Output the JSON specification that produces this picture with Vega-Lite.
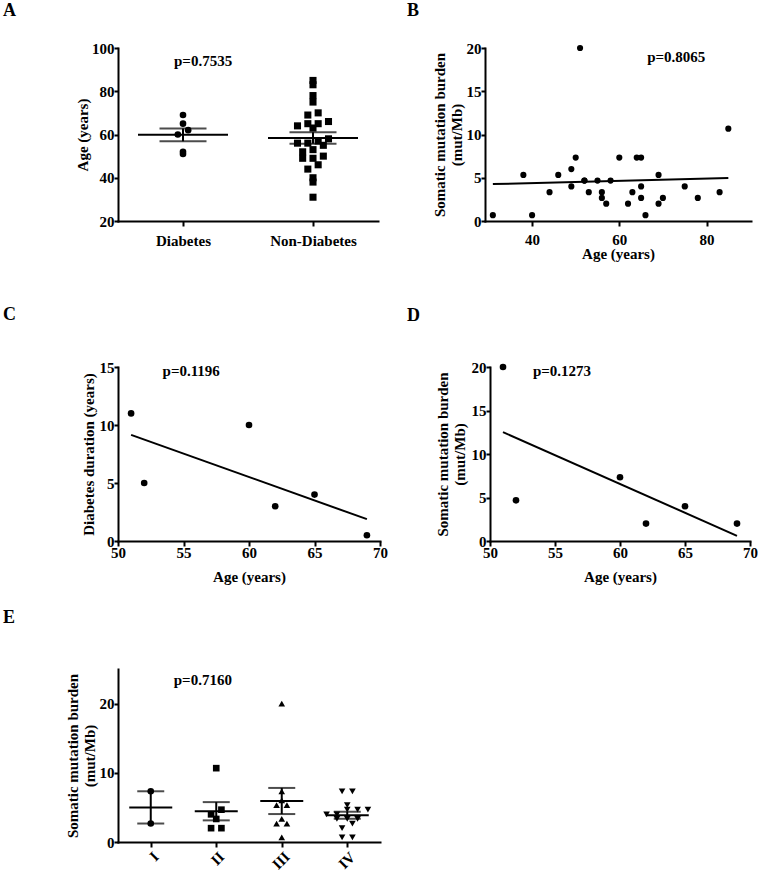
{
  "$schema": "https://vega.github.io/schema/vega-lite/v6.json",
  "padding": {"left": 3, "top": 2, "right": 0, "bottom": 0},
  "background": "white",
  "datasets": {
    "patients": [
      {"age": 31, "tmb": 0.67, "group": "Non-Diabetes", "stage": "III"},
      {"age": 38, "tmb": 5.33, "group": "Non-Diabetes", "stage": "III"},
      {"age": 40, "tmb": 0.67, "group": "Non-Diabetes", "stage": "IV"},
      {"age": 44, "tmb": 3.33, "group": "Non-Diabetes", "stage": "II"},
      {"age": 46, "tmb": 5.33, "group": "Non-Diabetes", "stage": "III"},
      {"age": 49, "tmb": 6.0, "group": "Non-Diabetes", "stage": "III"},
      {"age": 49, "tmb": 4.0, "group": "Non-Diabetes", "stage": "II"},
      {"age": 50, "tmb": 7.33, "group": "Non-Diabetes", "stage": "I"},
      {"age": 51, "tmb": 20, "group": "Diabetes", "duration": 11, "stage": "III"},
      {"age": 52, "tmb": 4.67, "group": "Diabetes", "duration": 5, "stage": "IV"},
      {"age": 52, "tmb": 4.67, "group": "Non-Diabetes", "stage": "II"},
      {"age": 53, "tmb": 3.33, "group": "Non-Diabetes", "stage": "III"},
      {"age": 55, "tmb": 4.67, "group": "Non-Diabetes", "stage": "IV"},
      {"age": 56, "tmb": 3.33, "group": "Non-Diabetes", "stage": "IV"},
      {"age": 56, "tmb": 2.67, "group": "Non-Diabetes", "stage": "I"},
      {"age": 57, "tmb": 2.0, "group": "Non-Diabetes", "stage": "II"},
      {"age": 58, "tmb": 4.67, "group": "Non-Diabetes", "stage": "IV"},
      {"age": 60, "tmb": 7.33, "group": "Diabetes", "duration": 10, "stage": "III"},
      {"age": 62, "tmb": 2.0, "group": "Diabetes", "duration": 3, "stage": "II"},
      {"age": 63, "tmb": 3.33, "group": "Non-Diabetes", "stage": "IV"},
      {"age": 64, "tmb": 7.33, "group": "Non-Diabetes", "stage": "IV"},
      {"age": 65, "tmb": 7.33, "group": "Non-Diabetes", "stage": "IV"},
      {"age": 65, "tmb": 4.0, "group": "Diabetes", "duration": 4, "stage": "IV"},
      {"age": 65, "tmb": 2.67, "group": "Non-Diabetes", "stage": "III"},
      {"age": 66, "tmb": 0.67, "group": "Non-Diabetes", "stage": "IV"},
      {"age": 69, "tmb": 2.0, "group": "Diabetes", "duration": 0.5, "stage": "IV"},
      {"age": 69, "tmb": 5.33, "group": "Non-Diabetes", "stage": "IV"},
      {"age": 70, "tmb": 2.67, "group": "Non-Diabetes", "stage": "III"},
      {"age": 75, "tmb": 4.0, "group": "Non-Diabetes", "stage": "IV"},
      {"age": 78, "tmb": 2.67, "group": "Non-Diabetes", "stage": "IV"},
      {"age": 83, "tmb": 3.33, "group": "Non-Diabetes", "stage": "IV"},
      {"age": 85, "tmb": 10.67, "group": "Non-Diabetes", "stage": "II"}
    ]
  },
  "columns": 1,
  "align": "none",
  "spacing": 25,
  "resolve": {"scale": {"shape": "independent", "size": "independent", "xOffset": "independent"}},
  "concat": [
    {
      "hconcat": [
        {
          "width": 260,
          "height": 173,
          "title": {"text": "A", "dx": -115, "offset": 21},
          "data": {"name": "patients"},
          "layer": [
            {
              "transform": [
                {"bin": {"step": 4}, "field": "age", "as": "abin"},
                {"window": [{"op": "row_number", "as": "r"}, {"op": "count", "as": "n"}], "groupby": ["group", "abin"], "sort": [{"field": "age"}], "frame": [null, null]},
                {"calculate": "datum.r - (datum.n + 1) / 2", "as": "off"}
              ],
              "mark": {"type": "point", "filled": true, "color": "black", "opacity": 1},
              "encoding": {
                "x": {"field": "group", "type": "nominal", "title": null, "scale": {"type": "point", "padding": 0.5, "domain": ["Diabetes", "Non-Diabetes"]}, "axis": {"labelPadding": 7}},
                "xOffset": {"field": "off", "type": "quantitative", "scale": {"domain": [-6, 6], "range": [-62, 62]}},
                "y": {"field": "age", "type": "quantitative", "title": "Age (years)", "scale": {"domain": [20, 100], "nice": false, "zero": false}, "axis": {"values": [20, 40, 60, 80, 100], "titlePadding": 1}},
                "shape": {"field": "group", "type": "nominal", "scale": {"domain": ["Diabetes", "Non-Diabetes"], "range": ["circle", "square"]}, "legend": null},
                "size": {"field": "group", "type": "nominal", "scale": {"domain": ["Diabetes", "Non-Diabetes"], "range": [44, 50]}, "legend": null}
              }
            },
            {
              "mark": {"type": "tick", "size": 90, "thickness": 2, "color": "black"},
              "encoding": {
                "x": {"field": "group", "type": "nominal", "title": null},
                "y": {"aggregate": "mean", "field": "age", "type": "quantitative", "title": "Age (years)"}
              }
            },
            {
              "mark": {"type": "errorbar", "extent": "stderr", "thickness": 2, "color": "black", "ticks": {"size": 47, "thickness": 2, "color": "black"}},
              "encoding": {
                "x": {"field": "group", "type": "nominal", "title": null},
                "y": {"field": "age", "type": "quantitative", "title": "Age (years)"}
              }
            },
            {
              "data": {"values": [{}]},
              "mark": {"type": "text", "align": "left", "baseline": "alphabetic", "dx": -9},
              "encoding": {
                "x": {"datum": "Diabetes", "type": "nominal", "title": null},
                "y": {"datum": 91.8, "type": "quantitative", "title": "Age (years)"},
                "text": {"value": "p=0.7535"}
              }
            }
          ]
        },
        {
          "width": 266,
          "height": 173,
          "title": {"text": "B", "dx": -78, "offset": 21},
          "data": {"name": "patients"},
          "layer": [
            {
              "mark": {"type": "point", "filled": true, "size": 38, "color": "black", "opacity": 1, "shape": "circle"},
              "encoding": {
                "x": {"field": "age", "type": "quantitative", "title": ["Age (years)", ""], "scale": {"domain": [29.2, 90.2], "nice": false, "zero": false}, "axis": {"values": [40, 60, 80], "titleLineHeight": 20, "titlePadding": -1}},
                "y": {"field": "tmb", "type": "quantitative", "title": ["Somatic mutation burden", "(mut/Mb)"], "scale": {"domain": [0, 20], "nice": false}, "axis": {"values": [0, 5, 10, 15, 20], "titlePadding": 2}}
              }
            },
            {
              "transform": [{"regression": "tmb", "on": "age"}],
              "mark": {"type": "line", "color": "black", "strokeWidth": 2},
              "encoding": {
                "x": {"field": "age", "type": "quantitative", "title": ["Age (years)", ""]},
                "y": {"field": "tmb", "type": "quantitative", "title": ["Somatic mutation burden", "(mut/Mb)"]}
              }
            },
            {
              "data": {"values": [{}]},
              "mark": {"type": "text", "align": "left", "baseline": "alphabetic"},
              "encoding": {
                "x": {"datum": 66.4, "type": "quantitative", "title": ["Age (years)", ""]},
                "y": {"datum": 18.4, "type": "quantitative", "title": ["Somatic mutation burden", "(mut/Mb)"]},
                "text": {"value": "p=0.8065"}
              }
            }
          ]
        }
      ],
      "spacing": 107,
      "bounds": "flush"
    },
    {
      "hconcat": [
        {
          "width": 262,
          "height": 174,
          "title": {"text": "C", "dx": -115, "offset": 36},
          "data": {"name": "patients"},
          "transform": [{"filter": "datum.group === 'Diabetes'"}],
          "layer": [
            {
              "mark": {"type": "point", "filled": true, "size": 44, "color": "black", "opacity": 1, "shape": "circle"},
              "encoding": {
                "x": {"field": "age", "type": "quantitative", "title": "Age (years)", "scale": {"domain": [50, 70], "nice": false, "zero": false}, "axis": {"values": [50, 55, 60, 65, 70], "labelPadding": -1, "titlePadding": 9}},
                "y": {"field": "duration", "type": "quantitative", "title": "Diabetes duration (years)", "scale": {"domain": [0, 15], "nice": false}, "axis": {"values": [0, 5, 10, 15], "titlePadding": 3}}
              }
            },
            {
              "transform": [{"regression": "duration", "on": "age"}],
              "mark": {"type": "line", "color": "black", "strokeWidth": 2},
              "encoding": {
                "x": {"field": "age", "type": "quantitative", "title": "Age (years)"},
                "y": {"field": "duration", "type": "quantitative", "title": "Diabetes duration (years)"}
              }
            },
            {
              "data": {"values": [{}]},
              "mark": {"type": "text", "align": "left", "baseline": "alphabetic"},
              "encoding": {
                "x": {"datum": 53.4, "type": "quantitative", "title": "Age (years)"},
                "y": {"datum": 14.2, "type": "quantitative", "title": "Diabetes duration (years)"},
                "text": {"value": "p=0.1196"}
              }
            }
          ]
        },
        {
          "width": 260,
          "height": 174,
          "title": {"text": "D", "dx": -83, "offset": 35},
          "data": {"name": "patients"},
          "transform": [{"filter": "datum.group === 'Diabetes'"}],
          "layer": [
            {
              "mark": {"type": "point", "filled": true, "size": 44, "color": "black", "opacity": 1, "shape": "circle"},
              "encoding": {
                "x": {"field": "age", "type": "quantitative", "title": "Age (years)", "scale": {"domain": [50, 70], "nice": false, "zero": false}, "axis": {"values": [50, 55, 60, 65, 70], "labelPadding": -1, "titlePadding": 9}},
                "y": {"field": "tmb", "type": "quantitative", "title": ["Somatic mutation burden", "(mut/Mb)"], "scale": {"domain": [0, 20], "nice": false}, "axis": {"values": [0, 5, 10, 15, 20], "titlePadding": 4}}
              }
            },
            {
              "transform": [{"regression": "tmb", "on": "age"}],
              "mark": {"type": "line", "color": "black", "strokeWidth": 2},
              "encoding": {
                "x": {"field": "age", "type": "quantitative", "title": "Age (years)"},
                "y": {"field": "tmb", "type": "quantitative", "title": ["Somatic mutation burden", "(mut/Mb)"]}
              }
            },
            {
              "data": {"values": [{}]},
              "mark": {"type": "text", "align": "left", "baseline": "alphabetic"},
              "encoding": {
                "x": {"datum": 53.3, "type": "quantitative", "title": "Age (years)"},
                "y": {"datum": 19.0, "type": "quantitative", "title": ["Somatic mutation burden", "(mut/Mb)"]},
                "text": {"value": "p=0.1273"}
              }
            }
          ]
        }
      ],
      "spacing": 110,
      "bounds": "flush"
    },
    {
      "width": 262,
      "height": 173,
      "title": {"text": "E", "dx": -115, "offset": 42},
      "data": {"name": "patients"},
      "layer": [
        {
          "transform": [
            {"bin": {"step": 1}, "field": "tmb", "as": "tbin"},
            {"window": [{"op": "row_number", "as": "r"}, {"op": "count", "as": "n"}], "groupby": ["stage", "tbin"], "sort": [{"field": "tmb"}], "frame": [null, null]},
            {"calculate": "datum.r - (datum.n + 1) / 2", "as": "off"}
          ],
          "mark": {"type": "point", "filled": true, "size": 44, "color": "black", "opacity": 1},
          "encoding": {
            "x": {"field": "stage", "type": "nominal", "title": null, "scale": {"type": "point", "padding": 0.5, "domain": ["I", "II", "III", "IV"]}, "axis": {"labelAngle": -45, "labelPadding": 2}},
            "xOffset": {"field": "off", "type": "quantitative", "scale": {"domain": [-6, 6], "range": [-62, 62]}},
            "y": {"field": "tmb", "type": "quantitative", "title": ["Somatic mutation burden", "(mut/Mb)"], "scale": {"domain": [0, 25], "nice": false}, "axis": {"values": [0, 5, 10, 15, 20, 25], "titlePadding": 2}},
            "shape": {"field": "stage", "type": "nominal", "scale": {"domain": ["I", "II", "III", "IV"], "range": ["circle", "square", "triangle-up", "triangle-down"]}, "legend": null}
          }
        },
        {
          "mark": {"type": "tick", "size": 43, "thickness": 2, "color": "black"},
          "encoding": {
            "x": {"field": "stage", "type": "nominal", "title": null},
            "y": {"aggregate": "mean", "field": "tmb", "type": "quantitative", "title": ["Somatic mutation burden", "(mut/Mb)"]}
          }
        },
        {
          "mark": {"type": "errorbar", "extent": "stderr", "thickness": 2, "color": "black", "ticks": {"size": 27, "thickness": 2, "color": "black"}},
          "encoding": {
            "x": {"field": "stage", "type": "nominal", "title": null},
            "y": {"field": "tmb", "type": "quantitative", "title": ["Somatic mutation burden", "(mut/Mb)"]}
          }
        },
        {
          "data": {"values": [{}]},
          "mark": {"type": "text", "align": "left", "baseline": "alphabetic", "dx": 23},
          "encoding": {
            "x": {"datum": "I", "type": "nominal", "title": null},
            "y": {"datum": 22.7, "type": "quantitative", "title": ["Somatic mutation burden", "(mut/Mb)"]},
            "text": {"value": "p=0.7160"}
          }
        }
      ]
    }
  ],
  "config": {
    "font": "Liberation Serif, Times New Roman, serif",
    "view": {"stroke": null},
    "axis": {
      "grid": false,
      "domainColor": "black",
      "domainWidth": 2,
      "domainCap": "square",
      "tickColor": "black",
      "tickWidth": 2,
      "labelFont": "Liberation Serif, Times New Roman, serif",
      "labelFontWeight": "bold",
      "labelFontSize": 15,
      "labelColor": "black",
      "titleFont": "Liberation Serif, Times New Roman, serif",
      "titleFontWeight": "bold",
      "titleFontSize": 15,
      "titleColor": "black",
      "titleLineHeight": 17,
      "labelFlush": false,
      "labelOverlap": false
    },
    "axisX": {"tickSize": 5, "labelPadding": 6, "titlePadding": -3, "labelAngle": 0},
    "axisY": {"tickSize": 4, "labelPadding": 0, "titlePadding": 1},
    "title": {"font": "Liberation Serif, Times New Roman, serif", "fontSize": 18, "fontWeight": "bold", "color": "black", "anchor": "start", "frame": "group", "baseline": "alphabetic"},
    "text": {"font": "Liberation Serif, Times New Roman, serif", "fontWeight": "bold", "fontSize": 15, "fill": "black"}
  }
}
